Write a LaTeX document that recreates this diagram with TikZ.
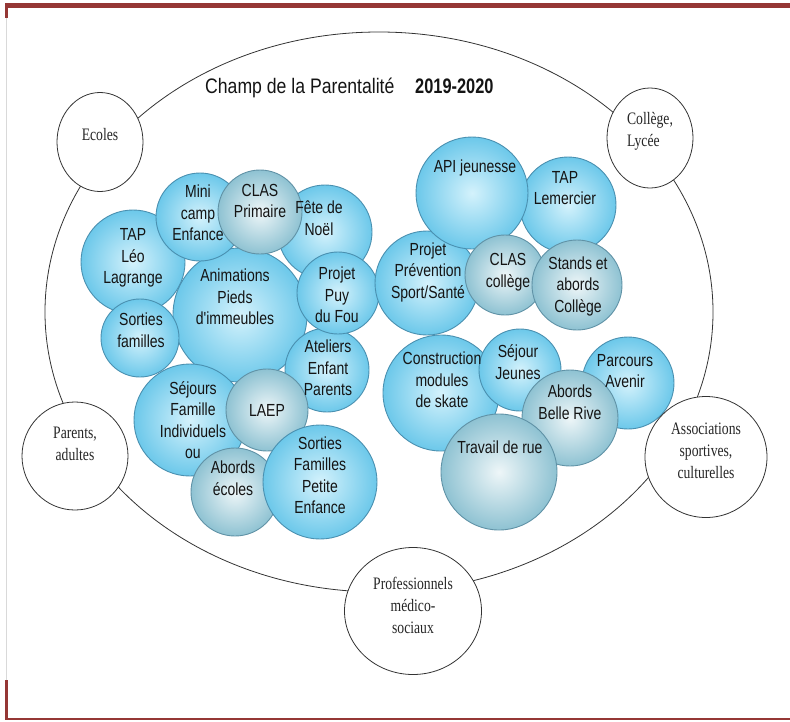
\documentclass[tikz,border=0pt]{standalone}
\usepackage{fontspec}
\usepackage{tikz}
\usetikzlibrary{shapes.geometric}
\pgfdeclarelayer{background}
\pgfdeclarelayer{foreground}
\pgfsetlayers{background,main,foreground}
\newfontfamily\bubfont[FakeStretch=0.8]{Liberation Sans}
\newfontfamily\ringfont[FakeStretch=0.78]{Liberation Serif}
\newfontfamily\titlefont[FakeStretch=0.84]{Liberation Sans}
\newfontfamily\yearfont[FakeStretch=0.78]{Liberation Sans}
\definecolor{pagered}{RGB}{149,55,53}
\definecolor{bubin}{RGB}{212,242,252}
\definecolor{bubout}{RGB}{108,200,234}
\definecolor{bubline}{RGB}{74,144,176}
\definecolor{greyin}{RGB}{238,246,248}
\definecolor{greyout}{RGB}{142,194,210}
\definecolor{greyline}{RGB}{96,146,166}
\definecolor{inktxt}{RGB}{20,20,20}
\tikzset{
  bluebubble/.style={circle,inner sep=0pt,draw=bubline,line width=0.9pt,inner color=bubin,outer color=bubout},
  greybubble/.style={circle,inner sep=0pt,draw=greyline,line width=0.9pt,inner color=greyin,outer color=greyout},
  ring/.style={ellipse,inner sep=0pt,draw=black!80,line width=0.8pt,fill=white},
  bubtxt/.style={align=center,inner sep=0pt,text=inktxt,font=\bubfont\fontsize{17.5}{21.5}\selectfont},
  ringtxt/.style={align=center,inner sep=0pt,text=black!85,font=\ringfont\fontsize{17.5}{22}\selectfont}
}
\begin{document}
\begin{tikzpicture}[x=1pt,y=-1pt]
\useasboundingbox (0,0) rectangle (790,721);
\begin{pgfonlayer}{background}
\fill[pagered] (5,3) rectangle (790,8); %top
\fill[pagered] (5,8) rectangle (8,18);
\draw[black!15,line width=0.6pt] (6.5,18) -- (6.5,680);
\fill[pagered] (5,680) rectangle (8,720); %bottom
\fill[pagered] (5,718) rectangle (790,720);
\draw[black!80,line width=0.8pt] (379,312) ellipse [x radius=334, y radius=280]; %champ
\end{pgfonlayer}
% left group
\node[bluebubble,minimum size=134pt] (anim) at (240,315) {};
\node[bluebubble,minimum size=104pt] (tapleo) at (133,262) {};
\node[bluebubble,minimum size=88pt] (minicamp) at (200,217) {};
\node[bluebubble,minimum size=94pt] (fete) at (325,232) {};
\node[greybubble,minimum size=84pt] (clasprim) at (260,212) {};
\node[bluebubble,minimum size=78pt] (sortfam) at (140,338) {};
\node[bluebubble,minimum size=84pt] (ateliers) at (327,370) {};
\node[bluebubble,minimum size=82pt] (puyfou) at (338,293) {};
\node[bluebubble,minimum size=112pt] (sejours) at (190,420) {};
\node[greybubble,minimum size=82pt] (laep) at (267,410) {};
\node[greybubble,minimum size=88pt] (abordsec) at (235,492) {};
\node[bluebubble,minimum size=114pt] (sortpe) at (320,482) {};
% right group
\node[bluebubble,minimum size=96pt] (taplem) at (568,205) {};
\node[bluebubble,minimum size=116pt] (constr) at (441,393) {};
\node[bluebubble,minimum size=104pt] (prev) at (427,283) {};
\node[bluebubble,minimum size=112pt] (api) at (472,193) {};
\node[greybubble,minimum size=80pt] (clascol) at (505,275) {};
\node[greybubble,minimum size=90pt] (stands) at (577,285) {};
\node[bluebubble,minimum size=82pt] (sejj) at (520,370) {};
\node[bluebubble,minimum size=92pt] (parcours) at (628,383) {};
\node[greybubble,minimum size=96pt] (belle) at (570,418) {};
\node[greybubble,minimum size=116pt] (travail) at (499,472) {};
\begin{pgfonlayer}{foreground}
\node[ring,minimum width=86pt,minimum height=99pt] (ecoles) at (100,142) {};
\node[ring,minimum width=86pt,minimum height=100pt] (college) at (650,138) {};
\node[ring,minimum width=106pt,minimum height=108pt] (parents) at (75,456) {};
\node[ring,minimum width=122pt,minimum height=121pt] (assoc) at (706,457) {};
\node[ring,minimum width=137pt,minimum height=127pt] (pros) at (413,611) {};
\node[ringtxt] (ecolest) at (100,135) {Ecoles};
\node[ringtxt,align=left] (colleget) at (650,131) {Collège,\\Lycée};
\node[ringtxt] (parentst) at (75,444) {Parents,\\adultes};
\node[ringtxt] (assoct) at (706,451) {Associations\\sportives,\\culturelles};
\node[ringtxt] (prost) at (413,605) {Professionnels\\médico-\\sociaux};
\node[anchor=base west,inner sep=0pt,text=inktxt,font=\titlefont\fontsize{21}{24}\selectfont] (titre) at (205,93) {Champ de la Parentalité};
\node[anchor=base west,inner sep=0pt,text=inktxt,font=\yearfont\bfseries\fontsize{21}{24}\selectfont] (annee) at (415,93) {2019-2020};
\node[bubtxt] (animt) at (235,297) {Animations\\Pieds\\d'immeubles};
\node[bubtxt] (tapleot) at (133,258) {TAP\\Léo\\Lagrange};
\node[bubtxt] (minicampt) at (198,213) {Mini\\camp\\Enfance};
\node[bubtxt] (fetet) at (319,218) {Fête de\\Noël};
\node[bubtxt] (clasprimt) at (260,201) {CLAS\\Primaire};
\node[bubtxt] (sortfamt) at (141,330) {Sorties\\familles};
\node[bubtxt] (puyfout) at (337,295) {Projet\\Puy\\du Fou};
\node[bubtxt] (atelierst) at (328,368) {Ateliers\\Enfant\\Parents};
\node[bubtxt] (sejourst) at (193,420) {Séjours\\Famille\\Individuels\\ou};
\node[bubtxt] (laept) at (267,410) {LAEP};
\node[bubtxt] (abordsect) at (233,478) {Abords\\écoles};
\node[bubtxt] (sortpet) at (320,475) {Sorties\\Familles\\Petite\\Enfance};
\node[bubtxt] (apit) at (475,168) {API jeunesse};
\node[bubtxt] (taplemt) at (565,188) {TAP\\Lemercier};
\node[bubtxt] (prevt) at (428,272) {Projet\\Prévention\\Sport/Santé};
\node[bubtxt] (clascolt) at (508,272) {CLAS\\collège};
\node[bubtxt] (standst) at (578,286) {Stands et\\abords\\Collège};
\node[bubtxt] (constrt) at (442,380) {Construction\\modules\\de skate};
\node[bubtxt] (sejjt) at (518,362) {Séjour\\Jeunes};
\node[bubtxt] (parcourst) at (625,371) {Parcours\\Avenir};
\node[bubtxt] (bellet) at (570,402) {Abords\\Belle Rive};
\node[bubtxt] (travailt) at (500,447) {Travail de rue};
\end{pgfonlayer}
\end{tikzpicture}
\end{document}
